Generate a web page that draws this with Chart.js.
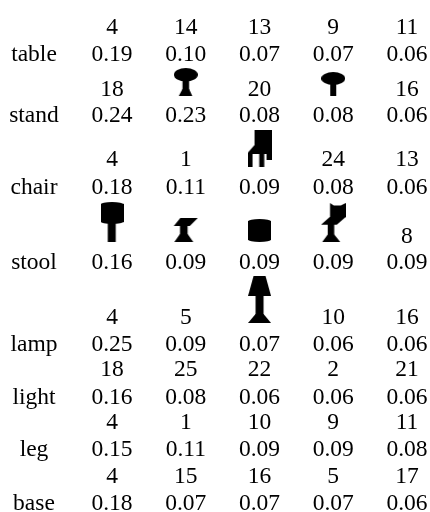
<!DOCTYPE html>
<html>
<head>
<meta charset="utf-8">
<script src="https://cdn.jsdelivr.net/npm/chart.js@4"></script>
<style>
  body { margin: 0; background: #fff; }
  canvas { display: block; }
</style>
</head>
<body>
<canvas id="chart" width="430" height="512"></canvas>
<script>
// Data
const words = ['table', 'stand', 'chair', 'stool', 'lamp', 'light', 'leg', 'base'];
// a string means the neighbour is shown as a silhouette, not a number
const tableIds = [4, 14, 13, 9, 11];
const standIds = [18, 'mushroom', 20, 'pedestal', 16];
const chairIds = [4, 1, 'chair', 24, 13];
const stoolIds = ['barstool', 'anvil', 'drum', 'highchair', 8];
const lampIds = [4, 5, 'lamp', 10, 16];
const lightIds = [18, 25, 22, 2, 21];
const legIds = [4, 1, 10, 9, 11];
const baseIds = [4, 15, 16, 5, 17];
const tableScores = ['0.19', '0.10', '0.07', '0.07', '0.06'];
const standScores = ['0.24', '0.23', '0.08', '0.08', '0.06'];
const chairScores = ['0.18', '0.11', '0.09', '0.08', '0.06'];
const stoolScores = ['0.16', '0.09', '0.09', '0.09', '0.09'];
const lampScores = ['0.25', '0.09', '0.07', '0.06', '0.06'];
const lightScores = ['0.16', '0.08', '0.06', '0.06', '0.06'];
const legScores = ['0.15', '0.11', '0.09', '0.09', '0.08'];
const baseScores = ['0.18', '0.07', '0.07', '0.07', '0.06'];

const idRows = [tableIds, standIds, chairIds, stoolIds, lampIds, lightIds, legIds, baseIds];
const scoreRows = [tableScores, standScores, chairScores, stoolScores, lampScores, lightScores, legScores, baseScores];

// Layout: row positions on the y axis, which runs in page pixels
const scoreLine = [55, 116, 188, 263, 345, 398, 450, 504];
const idLine = [28, 90, 160, 237, 318, 370, 423, 477];
const glyphBottom = [0, 96, 167, 242, 323, 0, 0, 0];
const WORD_COLUMN = -1.058;
const FONT = '23.5px "Liberation Serif"';

function makeGlyph(w, h, paint) {
    const c = document.createElement('canvas');
    c.width = w;
    c.height = h;
    const g = c.getContext('2d');
    g.fillStyle = '#000';
    paint(g);
    return c;
}

function poly(g, pts) {
    g.beginPath();
    pts.forEach((p, i) => i ? g.lineTo(p[0], p[1]) : g.moveTo(p[0], p[1]));
    g.closePath();
    g.fill();
}

function oval(g, cx, cy, rx, ry) {
    g.beginPath();
    g.ellipse(cx, cy, rx, ry, 0, 0, Math.PI * 2);
    g.fill();
}

function drumShape(g, w, h) {
    g.fillRect(0, 2, w, h - 4);
    oval(g, w / 2, 2.5, w / 2, 2.5);
    oval(g, w / 2, h - 2.5, w / 2, 2.5);
}

const glyphs = {
    mushroom: makeGlyph(24, 28, g => {
        oval(g, 12, 6.7, 12, 6.7);
        g.fillRect(8.7, 12, 6.6, 10);
        poly(g, [[8.7, 21], [15.3, 21], [18.5, 28], [5, 28]]);
    }),
    pedestal: makeGlyph(24, 24, g => {
        oval(g, 12, 6.5, 12, 6.5);
        g.fillRect(9, 12, 6, 12);
    }),
    chair: makeGlyph(24, 37, g => {
        poly(g, [[7, 0], [24, 0], [24, 30], [19, 30], [19, 24], [16.7, 24], [16.7, 37], [11.7, 37], [11.7, 24], [5, 24], [5, 37], [0, 37], [0, 23], [7, 15]]);
    }),
    barstool: makeGlyph(23, 40, g => {
        drumShape(g, 23, 22);
        g.fillRect(7.2, 20, 8, 20);
    }),
    anvil: makeGlyph(25, 24, g => {
        poly(g, [[7, 0], [24.5, 0], [16.5, 8], [0.5, 8]]);
        g.fillRect(6.7, 7, 7.6, 11);
        poly(g, [[6.7, 16], [14.3, 16], [20, 24], [1, 24]]);
    }),
    drum: makeGlyph(23, 23, g => drumShape(g, 23, 23)),
    highchair: makeGlyph(25, 39, g => {
        poly(g, [[9.3, 0], [13, 2.5], [20, 2.5], [25, 0], [25, 14], [9.3, 14]]);
        poly(g, [[9, 14], [25, 14], [16, 21.7], [0.3, 21.7]]);
        g.fillRect(7, 21, 6.5, 11);
        poly(g, [[7, 31.5], [13.5, 31.5], [19.5, 39], [1.5, 39]]);
    }),
    lamp: makeGlyph(23, 47, g => {
        poly(g, [[5.5, 0], [17.5, 0], [23, 20], [0, 20]]);
        g.fillRect(7.5, 19, 8, 20);
        poly(g, [[7.5, 38], [15.5, 38], [23, 47], [0, 47]]);
    })
};

// Build the point lists from the arrays above
const idPoints = [], idTexts = [], scorePoints = [], scoreTexts = [], glyphPoints = [], glyphStyles = [];
idRows.forEach((row, r) => {
    row.forEach((id, c) => {
        if (typeof id === 'string') {
            glyphPoints.push({ x: c, y: glyphBottom[r] - glyphs[id].height / 2 });
            glyphStyles.push(glyphs[id]);
        } else {
            idPoints.push({ x: c, y: idLine[r] });
            idTexts.push(String(id));
        }
    });
});
scoreRows.forEach((row, r) => {
    row.forEach((score, c) => {
        scorePoints.push({ x: c, y: scoreLine[r] });
        scoreTexts.push(score);
    });
});
const wordPoints = words.map((w, r) => ({ x: WORD_COLUMN, y: scoreLine[r] }));

// Writes each text dataset's strings at its points
const cellText = {
    id: 'cellText',
    afterDatasetsDraw(chart) {
        const ctx = chart.ctx;
        ctx.save();
        ctx.font = FONT;
        ctx.fillStyle = '#000';
        ctx.textAlign = 'center';
        ctx.textBaseline = 'middle';
        chart.data.datasets.forEach((ds, i) => {
            if (!ds.texts) return;
            chart.getDatasetMeta(i).data.forEach((el, j) => {
                ctx.fillText(ds.texts[j], el.x, el.y);
            });
        });
        ctx.restore();
    }
};

new Chart(document.getElementById('chart'), {
    type: 'scatter',
    data: {
        datasets: [
            { data: wordPoints, texts: words, pointRadius: 0 },
            { data: idPoints, texts: idTexts, pointRadius: 0 },
            { data: scorePoints, texts: scoreTexts, pointRadius: 0 },
            { data: glyphPoints, pointStyle: glyphStyles, pointRadius: 5, showLine: false }
        ]
    },
    options: {
        responsive: false,
        animation: false,
        devicePixelRatio: 1,
        layout: { padding: 0, autoPadding: false },
        plugins: { legend: { display: false }, tooltip: { enabled: false } },
        scales: {
            x: { type: 'linear', display: false, min: -1.519, max: 4.312 },
            y: { type: 'linear', display: false, reverse: true, min: 0, max: 512 }
        }
    },
    plugins: [cellText]
});
</script>
</body>
</html>
